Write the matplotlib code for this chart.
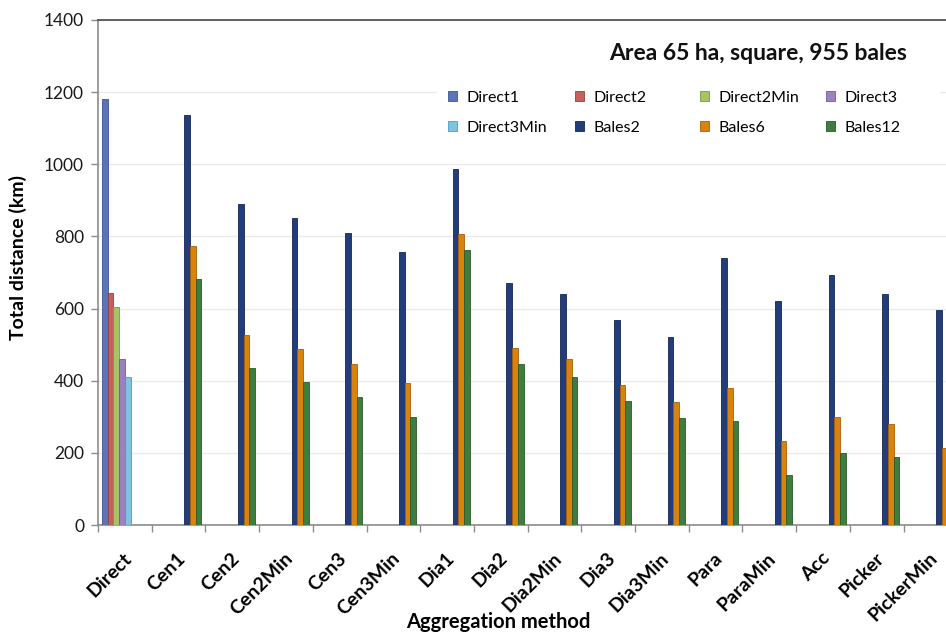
import numpy as np
import matplotlib
matplotlib.use("Agg")
import matplotlib.pyplot as plt
import matplotlib.transforms as mtransforms
from matplotlib.patches import Rectangle

plt.rcParams['font.family'] = ['Lato', 'DejaVu Sans']

# Aggregation methods on the x axis
methods = ['Direct', 'Cen1', 'Cen2', 'Cen2Min', 'Cen3', 'Cen3Min', 'Dia1', 'Dia2',
           'Dia2Min', 'Dia3', 'Dia3Min', 'Para', 'ParaMin', 'Acc', 'Picker', 'PickerMin']

# Direct strategies (only in the "Direct" group)
direct_names = ['Direct1', 'Direct2', 'Direct2Min', 'Direct3', 'Direct3Min']
direct_values = [1180, 642, 604, 459, 411]

# Bale-grouping strategies (all other methods)
bales_methods = methods[1:]
bales2 = [1137, 890, 852, 809, 756, 986, 672, 640, 569, 522, 741, 620, 693, 640, 595]
bales6 = [773, 527, 488, 445, 393, 806, 492, 459, 388, 341, 381, 234, 299, 279, 214]
bales12 = [681, 434, 396, 354, 300, 761, 447, 411, 343, 296, 289, 138, 200, 188, 130]

series_names = direct_names + ['Bales2', 'Bales6', 'Bales12']
face_colors = ['#5b74b9', '#c4615d', '#a6c463', '#9b81c0', '#7ec4e0',
               '#233c7a', '#d9830f', '#3f7d3f']
edge_colors = ['#3c5496', '#93403c', '#7c983f', '#72599a', '#4f9bbb',
               '#142654', '#a95f05', '#285a28']

title = 'Area 65 ha, square, 955 bales'

W, H = 946, 632
fig = plt.figure(figsize=(W / 100, H / 100), dpi=100)
fig.patch.set_facecolor('white')

# plot area in pixels: left 98, bottom 525, top 20, 53.7 px per category
x0, y0, y1, cat_px = 98, 525, 20, 53.7
ax_w = len(methods) * cat_px
ax = fig.add_axes([x0 / W, (H - y0) / H, ax_w / W, (y0 - y1) / H])

n_series = len(series_names)
bw = 0.106
x = np.arange(len(methods))

series_data = {}
for name, v in zip(direct_names, direct_values):
    series_data[name] = {'Direct': v}
for name, vals in zip(['Bales2', 'Bales6', 'Bales12'], [bales2, bales6, bales12]):
    series_data[name] = dict(zip(bales_methods, vals))

handles = []
for k, name in enumerate(series_names):
    d = series_data[name]
    pos = [methods.index(m) for m in d]
    vals = list(d.values())
    bars = ax.bar(np.array(pos) + (k - (n_series - 1) / 2) * bw, vals, width=bw,
                  color=face_colors[k], edgecolor=edge_colors[k], linewidth=0.6,
                  zorder=3, label=name)
    handles.append(bars)

ax.set_xlim(-0.5, len(methods) - 0.5)
ax.set_ylim(0, 1400)
ax.set_yticks(np.arange(0, 1401, 200))
ax.yaxis.grid(True, color='#ebebeb', linewidth=1.0, zorder=0)
ax.set_axisbelow(True)

# category boundaries as major ticks, names on minor ticks at centres
ax.set_xticks(np.arange(-0.5, len(methods), 1.0))
ax.set_xticklabels([])
ax.set_xticks(x, methods, minor=True)
ax.tick_params(axis='x', which='major', length=5, width=1, color='#8c8c8c', direction='out')
ax.tick_params(axis='x', which='minor', length=0, pad=22, labelsize=14)
shift = mtransforms.ScaledTranslation(4 / 100, 0, fig.dpi_scale_trans)
for lab in ax.get_xticklabels(minor=True):
    lab.set_rotation(45)
    lab.set_rotation_mode('anchor')
    lab.set_ha('right')
    lab.set_va('center')
    lab.set_fontweight('bold')
    lab.set_transform(lab.get_transform() + shift)
ax.tick_params(axis='y', length=5, width=1, color='#8c8c8c', labelsize=12.5, pad=5,
               labelcolor='#1a1a1a')

for side in ['left', 'bottom']:
    ax.spines[side].set_color('#8c8c8c')
    ax.spines[side].set_linewidth(1.2)
ax.spines['top'].set_color('#555555')
ax.spines['top'].set_linewidth(1.3)
ax.spines['right'].set_visible(False)

ax.set_ylabel('Total distance (km)', fontsize=14, fontweight='bold')
ax.yaxis.set_label_coords((27 - x0) / ax_w, (y0 - 258) / (y0 - y1))
ax.set_xlabel('Aggregation method', fontsize=14.5, fontweight='bold')
ax.xaxis.set_label_coords((498 - x0) / ax_w, (y0 - 612) / (y0 - y1))

# chart title inside the plot area
ax.text(758 / W, (H - 53) / H, title, transform=fig.transFigure, ha='center',
        va='center', fontsize=16.5, fontweight='bold', color='#111111')

# white backdrop behind the legend block
fig.patches.append(Rectangle((437 / W, (H - 152) / H), (940 - 437) / W, 77 / H,
                             transform=fig.transFigure, facecolor='white',
                             edgecolor='none', zorder=1))
ax.set_zorder(0)
ax.patch.set_alpha(0)

# four legend columns, evenly spaced
col_x = [448, 575, 700, 826]
for c in range(4):
    fig.legend([handles[c], handles[c + 4]], [series_names[c], series_names[c + 4]],
               loc='upper left', bbox_to_anchor=(col_x[c] / W, (H - 91) / H),
               bbox_transform=fig.transFigure, frameon=False, fontsize=11.5,
               handlelength=0.58, handleheight=0.58, handletextpad=0.6,
               labelspacing=1.0, borderpad=0.0, borderaxespad=0.0)

fig.savefig('out.png', dpi=100)
